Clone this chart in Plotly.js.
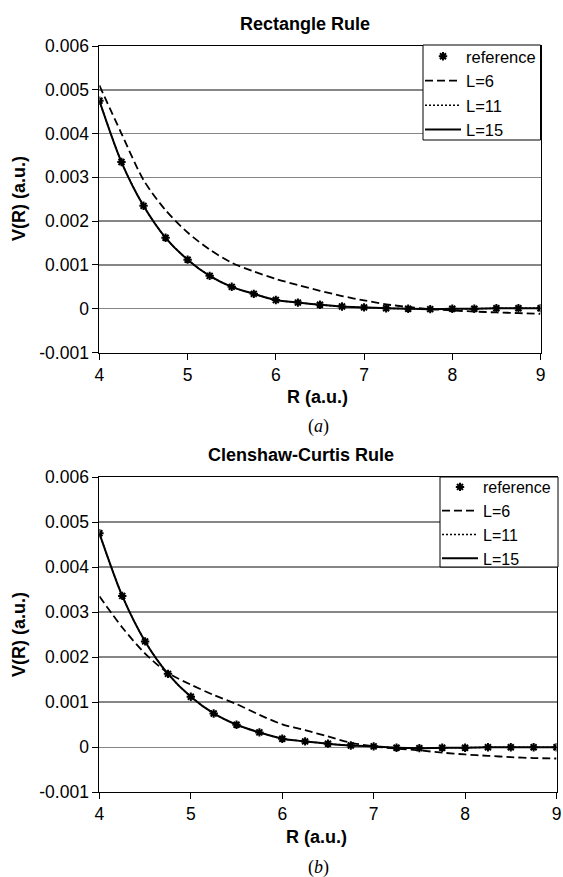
<!DOCTYPE html>
<html>
<head>
<meta charset="utf-8">
<script src="https://cdn.plot.ly/plotly-3.0.1.min.js"></script>
<style>html,body{margin:0;padding:0;background:#fff;}#chart{width:563px;height:877px;}</style>
</head>
<body>
<div id="chart"></div>
<script>
// R values (a.u.)
const R = [4.00, 4.25, 4.50, 4.75, 5.00, 5.25, 5.50, 5.75, 6.00, 6.25, 6.50, 6.75, 7.00, 7.25, 7.50, 7.75, 8.00, 8.25, 8.50, 8.75, 9.00];

// (a) Rectangle Rule
const refA = [0.00475, 0.00335, 0.00235, 0.00162, 0.00112, 0.00075, 0.00050, 0.00034, 0.00020, 0.00014, 0.00009, 0.00005, 0.00003, 0.00001, 0.00000, -0.00001, 0.00000, 0.00000, 0.00001, 0.00001, 0.00001];
const L6A  = [0.00510, 0.00400, 0.00294, 0.00225, 0.00174, 0.00135, 0.00105, 0.00085, 0.00068, 0.00054, 0.00041, 0.00029, 0.00019, 0.00010, 0.00004, -0.00001, -0.00004, -0.000065, -0.000085, -0.00010, -0.00012];
const L11A = [0.00475, 0.00335, 0.00235, 0.00162, 0.00112, 0.00075, 0.00050, 0.00034, 0.00020, 0.00014, 0.00009, 0.00005, 0.00003, 0.00001, 0.00000, -0.00001, 0.00000, 0.00000, 0.00001, 0.00001, 0.00001];
const L15A = [0.00475, 0.00335, 0.00235, 0.00162, 0.00112, 0.00075, 0.00050, 0.00034, 0.00020, 0.00014, 0.00009, 0.00005, 0.00003, 0.00001, 0.00000, -0.00001, 0.00000, 0.00000, 0.00001, 0.00001, 0.00001];

// (b) Clenshaw-Curtis Rule
const refB = [0.00475, 0.00336, 0.00235, 0.00163, 0.00112, 0.00075, 0.00050, 0.00033, 0.00019, 0.00013, 0.00008, 0.00004, 0.00002, -0.00001, -0.00002, -0.00001, -0.00001, 0.00000, 0.00000, 0.00000, 0.00000];
const L6B  = [0.00335, 0.00266, 0.00208, 0.00165, 0.00139, 0.00116, 0.00096, 0.00072, 0.00051, 0.00038, 0.00024, 0.00010, 0.00002, -0.00003, -0.00007, -0.00012, -0.00016, -0.00019, -0.00022, -0.00024, -0.00025];
const L11B = [0.00475, 0.00336, 0.00235, 0.00163, 0.00112, 0.00075, 0.00050, 0.00033, 0.00019, 0.00013, 0.00008, 0.00004, 0.00002, -0.00001, -0.00002, -0.00001, -0.00001, 0.00000, 0.00000, 0.00000, 0.00000];
const L15B = [0.00475, 0.00336, 0.00235, 0.00163, 0.00112, 0.00075, 0.00050, 0.00033, 0.00019, 0.00013, 0.00008, 0.00004, 0.00002, -0.00001, -0.00002, -0.00001, -0.00001, 0.00000, 0.00000, 0.00000, 0.00000];

// tick labels
const xTickVals = [4, 5, 6, 7, 8, 9];
const xTickText = ['4', '5', '6', '7', '8', '9'];
const yTickVals = [-0.001, 0, 0.001, 0.002, 0.003, 0.004, 0.005, 0.006];
const yTickText = ['-0.001', '0', '0.001', '0.002', '0.003', '0.004', '0.005', '0.006'];

const seriesNames = ['reference', 'L=6', 'L=11', 'L=15'];
const titles = ['Rectangle Rule', 'Clenshaw-Curtis Rule'];
const captions = ['(<i>a</i>)', '(<i>b</i>)'];

const FONT = 'Liberation Sans, Arial, sans-serif';

function makeTraces(ref, l6, l11, l15, xa, ya, leg) {
  return [
    {x: R, y: l6, name: seriesNames[1], type: 'scatter', mode: 'lines', xaxis: xa, yaxis: ya, legend: leg, legendrank: 2,
     line: {color: '#000', width: 1.8, dash: '8px,4px', shape: 'spline', smoothing: 0.8}},
    {x: R, y: l11, name: seriesNames[2], type: 'scatter', mode: 'lines', xaxis: xa, yaxis: ya, legend: leg, legendrank: 3,
     line: {color: '#000', width: 1.5, dash: '2px,2px', shape: 'spline', smoothing: 0.8}},
    {x: R, y: l15, name: seriesNames[3], type: 'scatter', mode: 'lines', xaxis: xa, yaxis: ya, legend: leg, legendrank: 4,
     line: {color: '#000', width: 2, shape: 'spline', smoothing: 0.8}},
    {x: R, y: ref, name: seriesNames[0], type: 'scatter', mode: 'markers', xaxis: xa, yaxis: ya, legend: leg, legendrank: 1,
     marker: {symbol: 'asterisk-open', size: 7, color: '#000', line: {color: '#000', width: 2}}}
  ];
}

const data = [].concat(
  makeTraces(refA, L6A, L11A, L15A, 'x', 'y', 'legend'),
  makeTraces(refB, L6B, L11B, L15B, 'x2', 'y2', 'legend2')
);

function xAxis(domain, anchor) {
  return {domain: domain, anchor: anchor, range: [4, 9], tickmode: 'array', tickvals: xTickVals, ticktext: xTickText,
    ticks: 'outside', ticklen: 6, tickwidth: 1, tickcolor: '#000', showline: true, linecolor: '#000', linewidth: 1,
    mirror: true, showgrid: false, zeroline: false, tickfont: {family: FONT, size: 17.5, color: '#000'}, fixedrange: true};
}
function yAxis(domain, anchor) {
  return {domain: domain, anchor: anchor, range: [-0.001, 0.006], tickmode: 'array', tickvals: yTickVals, ticktext: yTickText,
    ticks: 'outside', ticklen: 6, tickwidth: 1, tickcolor: '#000', showline: true, linecolor: '#000', linewidth: 1,
    mirror: true, showgrid: true, gridcolor: '#868686', gridwidth: 1.5, zeroline: false,
    tickfont: {family: FONT, size: 17.5, color: '#000'}, fixedrange: true};
}

const H = 877, W = 563;
const py = v => 1 - v / H;
const px = v => v / W;

function legendCfg(x, y, size) {
  return {x: x, y: y, xanchor: 'left', yanchor: 'top', xref: 'paper', yref: 'paper',
    bgcolor: 'rgba(0,0,0,0)', borderwidth: 0, font: {family: FONT, size: size, color: '#000'},
    itemwidth: 36, tracegroupgap: 0};
}

function ann(text, x, y, size, opts) {
  return Object.assign({text: text, x: x, y: y, xref: 'paper', yref: 'paper', showarrow: false,
    xanchor: 'center', yanchor: 'middle', font: {family: FONT, size: size, color: '#000'}}, opts || {});
}

function box(x0, y0, x1, y1) {
  return {type: 'rect', xref: 'paper', yref: 'paper', x0: px(x0), x1: px(x1), y0: py(y1), y1: py(y0),
    fillcolor: '#fff', line: {color: '#000', width: 1}, layer: 'above'};
}

const layout = {
  width: W, height: H,
  margin: {l: 0, r: 0, t: 0, b: 0},
  paper_bgcolor: '#fff', plot_bgcolor: '#fff',
  showlegend: true,
  xaxis: xAxis([px(99.4), px(540.5)], 'y'),
  yaxis: yAxis([py(352.5), py(46)], 'x'),
  xaxis2: xAxis([px(99.4), px(556.5)], 'y2'),
  yaxis2: yAxis([py(792.3), py(477)], 'x2'),
  legend: legendCfg(px(420), py(39), 16.5),
  legend2: legendCfg(px(437), py(470), 16),
  shapes: [box(423, 45, 540.5, 140), box(440, 477, 558, 567)],
  annotations: [
    ann('<b>' + titles[0] + '</b>', px(305), py(24), 18),
    ann('<b>' + titles[1] + '</b>', px(301), py(455), 18),
    ann('<b>R (a.u.)</b>', px(317), py(396.7), 18),
    ann('<b>R (a.u.)</b>', px(316.5), py(837), 18),
    ann('<b>V(R) (a.u.)</b>', px(19), py(199), 18, {textangle: -90}),
    ann('<b>V(R) (a.u.)</b>', px(19), py(635), 18, {textangle: -90}),
    ann(captions[0], px(318), py(426), 18, {font: {family: 'Liberation Serif, Times New Roman, serif', size: 18, color: '#000'}}),
    ann(captions[1], px(318), py(867), 18, {font: {family: 'Liberation Serif, Times New Roman, serif', size: 18, color: '#000'}})
  ]
};

Plotly.newPlot('chart', data, layout, {displayModeBar: false, staticPlot: true});
</script>
</body>
</html>
